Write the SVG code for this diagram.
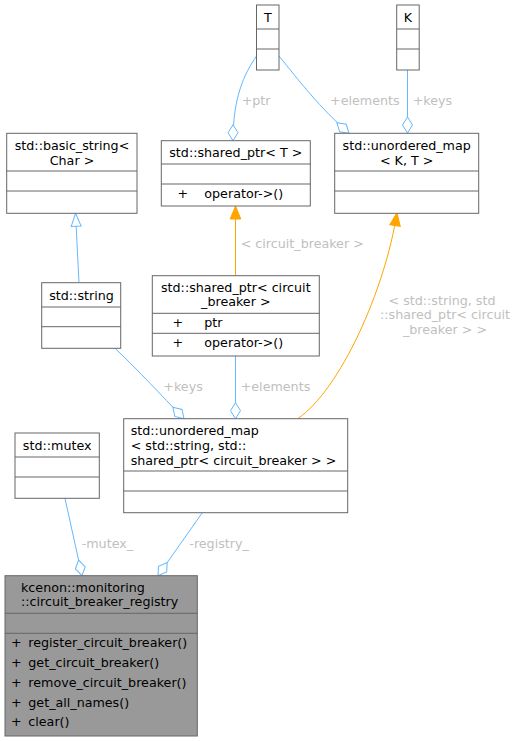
<svg xmlns="http://www.w3.org/2000/svg" width="517" height="741" viewBox="0 0 517 741">
<defs>
<style>
.box{fill:#ffffff;stroke:#666666;stroke-width:1}
.gbox{fill:#999999;stroke:#666666;stroke-width:1}
.div{stroke:#666666;stroke-width:1;fill:none}
text{font-family:"DejaVu Sans","Liberation Sans",sans-serif;font-size:12.7px;fill:#000000}
.c{text-anchor:middle}
.lbl{fill:#c0c0c0}
.blue{fill:none;stroke:#63b8ff;stroke-width:1}
.orange{fill:none;stroke:#ffa500;stroke-width:1}
</style>
<marker id="dia" markerUnits="userSpaceOnUse" markerWidth="18" markerHeight="12" viewBox="-1 -6 18 12" refX="16" refY="0" orient="auto">
<path d="M0,0 L8,-5 L16,0 L8,5 Z" fill="#ffffff" stroke="#63b8ff" stroke-width="1"/>
</marker>
<marker id="tri" markerUnits="userSpaceOnUse" markerWidth="15" markerHeight="13" viewBox="-1 -6.5 15 13" refX="13" refY="0" orient="auto">
<path d="M0,-5 L13,0 L0,5 Z" fill="#ffffff" stroke="#63b8ff" stroke-width="1"/>
</marker>
<marker id="arr" markerUnits="userSpaceOnUse" markerWidth="15" markerHeight="13" viewBox="-1 -6.5 15 13" refX="13" refY="0" orient="auto">
<path d="M0,-5.3 L13,0 L0,5.3 Z" fill="#ffa500" stroke="#ffa500" stroke-width="1"/>
</marker>
</defs>
<rect width="517" height="741" fill="#ffffff"/>

<g id="edges">
<path class="blue" d="M256.5,56 C244,74 233,98 233,140.7" marker-end="url(#dia)"/>
<text class="lbl" x="241.7" y="105.2">+ptr</text>
<path class="blue" d="M279,56 C300,82 320,108 349,133.3" marker-end="url(#dia)"/>
<text class="lbl" x="330" y="105.2">+elements</text>
<path class="blue" d="M407.5,70 L407.5,133" marker-end="url(#dia)"/>
<text class="lbl" x="412.7" y="105.2">+keys</text>
<path class="blue" d="M79,282.7 L75.5,213.3" marker-end="url(#tri)"/>
<path class="orange" d="M235.5,275.7 L235.5,206" marker-end="url(#arr)"/>
<text class="lbl" x="240.7" y="247.8">&lt; circuit_breaker &gt;</text>
<path class="orange" d="M297.7,418.7 C340,390 385,290 397,212.7" marker-end="url(#arr)"/>
<text class="lbl c" x="442" y="304.8">&lt; std::string, std</text>
<text class="lbl c" x="445" y="319.2">::shared_ptr&lt; circuit</text>
<text class="lbl c" x="445" y="333.8">_breaker &gt; &gt;</text>
<path class="blue" d="M115,348.3 C140,372 160,394 184,418.7" marker-end="url(#dia)"/>
<text class="lbl" x="163.3" y="390.5">+keys</text>
<path class="blue" d="M235.5,356 L235.5,418.7" marker-end="url(#dia)"/>
<text class="lbl" x="240.7" y="390.5">+elements</text>
<path class="blue" d="M65,498.3 L82,575.7" marker-end="url(#dia)"/>
<text class="lbl" x="81.7" y="547.8">-mutex_</text>
<path class="blue" d="M202.3,512.7 L158,575.7" marker-end="url(#dia)"/>
<text class="lbl" x="189.3" y="547.8">-registry_</text>
</g>

<g id="node_T">
<rect class="box" x="256.5" y="5" width="22.5" height="65"/>
<line class="div" x1="256.5" y1="29" x2="279" y2="29"/>
<line class="div" x1="256.5" y1="49" x2="279" y2="49"/>
<text class="c" x="267.8" y="21.5">T</text>
</g>

<g id="node_K">
<rect class="box" x="396.7" y="5" width="22.5" height="65"/>
<line class="div" x1="396.7" y1="29" x2="419.2" y2="29"/>
<line class="div" x1="396.7" y1="49" x2="419.2" y2="49"/>
<text class="c" x="408" y="21.5">K</text>
</g>

<g id="node_basic_string">
<rect class="box" x="6.7" y="133.3" width="130.3" height="80"/>
<line class="div" x1="6.7" y1="171" x2="137" y2="171"/>
<line class="div" x1="6.7" y1="191" x2="137" y2="191"/>
<text class="c" x="72" y="149.5">std::basic_string&lt;</text>
<text class="c" x="72" y="164.5">Char &gt;</text>
</g>

<g id="node_shared_ptr_T">
<rect class="box" x="161.3" y="140.7" width="149" height="65.3"/>
<line class="div" x1="161.3" y1="164" x2="310.3" y2="164"/>
<line class="div" x1="161.3" y1="184" x2="310.3" y2="184"/>
<text class="c" x="235.8" y="156.5">std::shared_ptr&lt; T &gt;</text>
<text x="177.5" y="197.8">+</text>
<text x="204.3" y="197.8">operator-&gt;()</text>
</g>

<g id="node_unordered_map_KT">
<rect class="box" x="334.7" y="133.3" width="144" height="80"/>
<line class="div" x1="334.7" y1="171" x2="478.7" y2="171"/>
<line class="div" x1="334.7" y1="191" x2="478.7" y2="191"/>
<text class="c" x="406.7" y="149.5">std::unordered_map</text>
<text class="c" x="406.7" y="164.5">&lt; K, T &gt;</text>
</g>

<g id="node_string">
<rect class="box" x="41.7" y="282.7" width="79" height="65.6"/>
<line class="div" x1="41.7" y1="307" x2="120.7" y2="307"/>
<line class="div" x1="41.7" y1="326.7" x2="120.7" y2="326.7"/>
<text class="c" x="81.5" y="299.8">std::string</text>
</g>

<g id="node_shared_ptr_cb">
<rect class="box" x="152.3" y="275.7" width="167" height="80.3"/>
<line class="div" x1="152.3" y1="313.3" x2="319.3" y2="313.3"/>
<line class="div" x1="152.3" y1="333.3" x2="319.3" y2="333.3"/>
<text class="c" x="235.8" y="291.8">std::shared_ptr&lt; circuit</text>
<text class="c" x="235.8" y="306.2">_breaker &gt;</text>
<text x="172.5" y="327.2">+</text>
<text x="204.3" y="327.2">ptr</text>
<text x="172.5" y="346.8">+</text>
<text x="204.3" y="346.8">operator-&gt;()</text>
</g>

<g id="node_unordered_map_cb">
<rect class="box" x="123.7" y="418.7" width="224" height="94"/>
<line class="div" x1="123.7" y1="471" x2="347.7" y2="471"/>
<line class="div" x1="123.7" y1="491" x2="347.7" y2="491"/>
<text x="130.7" y="435.2">std::unordered_map</text>
<text x="130.7" y="449.8">&lt; std::string, std::</text>
<text x="130.7" y="464.5">shared_ptr&lt; circuit_breaker &gt; &gt;</text>
</g>

<g id="node_mutex">
<rect class="box" x="15" y="433" width="84.3" height="65.3"/>
<line class="div" x1="15" y1="457" x2="99.3" y2="457"/>
<line class="div" x1="15" y1="477" x2="99.3" y2="477"/>
<text class="c" x="57.2" y="449.8">std::mutex</text>
</g>

<g id="node_registry">
<rect class="gbox" x="5" y="575.7" width="192.3" height="160.3"/>
<line class="div" x1="5" y1="613.3" x2="197.3" y2="613.3"/>
<line class="div" x1="5" y1="633.3" x2="197.3" y2="633.3"/>
<text x="21" y="591.8">kcenon::monitoring</text>
<text x="21" y="606.2">::circuit_breaker_registry</text>
<text x="11" y="647.2">+</text>
<text x="28.3" y="647.2">register_circuit_breaker()</text>
<text x="11" y="667.2">+</text>
<text x="28.3" y="667.2">get_circuit_breaker()</text>
<text x="11" y="686.8">+</text>
<text x="28.3" y="686.8">remove_circuit_breaker()</text>
<text x="11" y="706.5">+</text>
<text x="28.3" y="706.5">get_all_names()</text>
<text x="11" y="726.2">+</text>
<text x="28.3" y="726.2">clear()</text>
</g>
</svg>
